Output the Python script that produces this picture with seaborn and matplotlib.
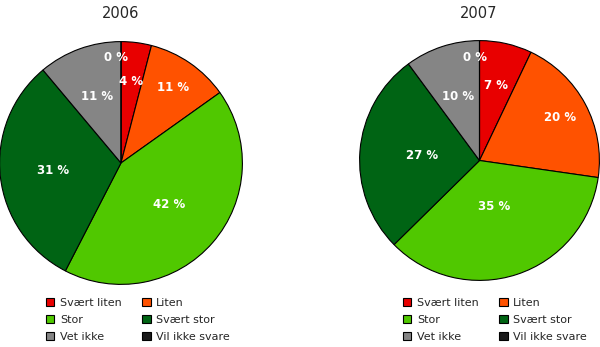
import numpy as np
import matplotlib
matplotlib.use("Agg")
import matplotlib.pyplot as plt
from matplotlib.patches import Patch
import seaborn as sns

categories = ["Svært liten", "Liten", "Stor", "Svært stor", "Vet ikke", "Vil ikke svare"]
years = ["2006", "2007"]
values_2006 = [4, 11, 42, 31, 11, 0]
values_2007 = [7, 20, 35, 27, 10, 0]

colors = ["#E80000", "#FF5200", "#50C800", "#006414", "#858585", "#1A1A1A"]

sns.set_theme(style="white")
plt.rcParams["font.family"] = ["DejaVu Sans"]

fig = plt.figure(figsize=(6.0, 3.47), dpi=100)

W, H = 600, 347
def px_axes(x0, y0, w, h):
    return fig.add_axes([x0 / W, (H - y0 - h) / H, w / W, h / H])

# per-slice label radial distances (fraction of radius)
label_r = {
    "2006": [0.68, 0.76, 0.52, 0.56, 0.58, 0.87],
    "2007": [0.64, 0.76, 0.40, 0.48, 0.56, 0.86],
}

specs = [
    ("2006", values_2006, (-1, 41, 244, 244)),
    ("2007", values_2007, (359, 40, 241, 241)),
]

for year, vals, box in specs:
    ax = px_axes(*box)
    wedges, _ = ax.pie(vals, colors=colors, startangle=90, counterclock=False,
                       wedgeprops=dict(edgecolor="black", linewidth=0.8),
                       radius=1.0)
    for w, v, r in zip(wedges, vals, label_r[year]):
        ang = np.deg2rad((w.theta1 + w.theta2) / 2)
        dx = -0.04 if v == 0 else 0.0
        ax.text(r * np.cos(ang) + dx, r * np.sin(ang), f"{v} %", ha="center", va="center",
                color="white", fontsize=8.5, fontweight="bold")
    ax.set_xlim(-1.005, 1.005)
    ax.set_ylim(-1.005, 1.005)
    ax.set_aspect("equal")
    ax.axis("off")

fig.text(121 / W, 1 - 13 / H, "2006", ha="center", va="center", fontsize=10.5)
fig.text(479 / W, 1 - 13 / H, "2007", ha="center", va="center", fontsize=10.5)

order = [0, 2, 4, 1, 3, 5]
handles = [Patch(facecolor=colors[i], edgecolor="black", linewidth=0.8) for i in order]
labels = [categories[i] for i in order]

for x0 in (46, 403):
    fig.legend(handles, labels, loc="upper left", bbox_to_anchor=(x0 / W, 1 - 298 / H),
               ncol=2, frameon=False, fontsize=8, handlelength=0.75, handleheight=0.75,
               handletextpad=0.5, columnspacing=1.85, labelspacing=0.62, borderaxespad=0,
               borderpad=0)

fig.savefig("out.png", dpi=100)
